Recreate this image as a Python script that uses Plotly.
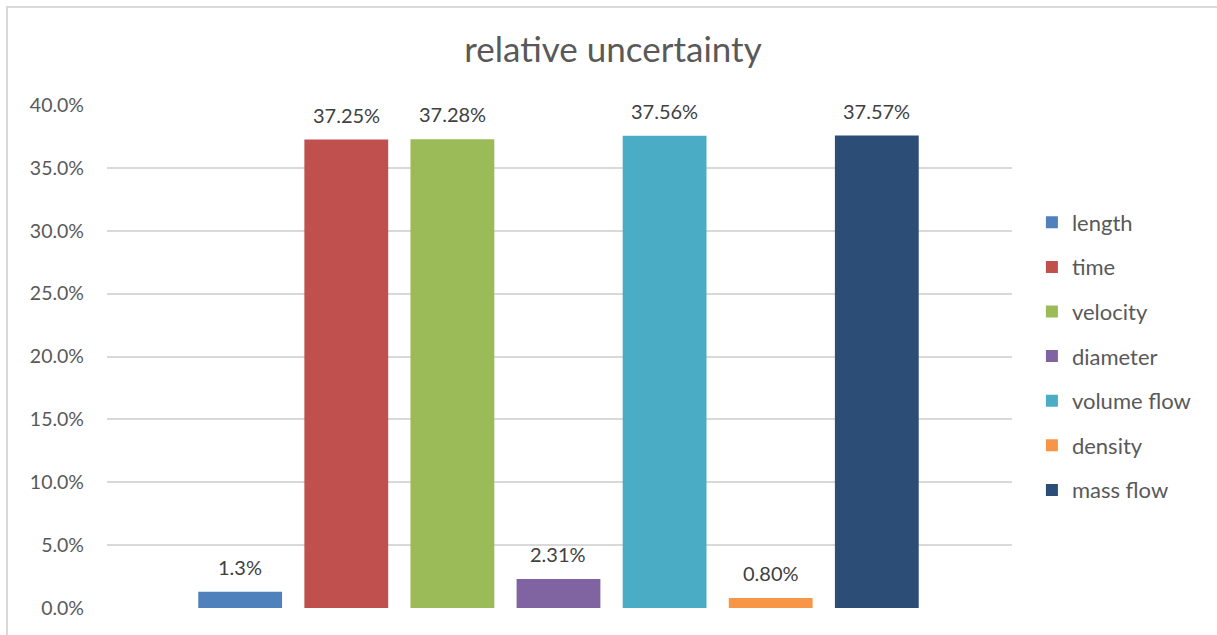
import plotly.graph_objects as go

# Relative uncertainty of each measured / derived quantity
quantities = ["length", "time", "velocity", "diameter", "volume flow", "density", "mass flow"]
uncertainty = [0.013, 0.3725, 0.3728, 0.0231, 0.3756, 0.0080, 0.3757]
label_decimals = [1, 2, 2, 2, 2, 2, 2]
colors = ["#4F81BD", "#C0504D", "#9BBB59", "#8064A2", "#4BACC6", "#F79646", "#2C4D75"]
y_ticks = [0.0, 0.05, 0.10, 0.15, 0.20, 0.25, 0.30, 0.35, 0.40]

FONT = "Lato"
TEXT = "#595959"

fig = go.Figure()
annotations = []
for i, (name, val, dec, col) in enumerate(zip(quantities, uncertainty, label_decimals, colors)):
    fig.add_trace(go.Bar(
        x=[i], y=[val], name=name, width=0.79,
        marker=dict(color=col, line=dict(width=0)),
        legendgroup=name, hoverinfo="skip",
    ))
    annotations.append(dict(
        x=i, y=val, xref="x", yref="y",
        text=f"{val * 100:.{dec}f}%", showarrow=False,
        yanchor="bottom", yshift=11,
        font=dict(family=FONT, size=20, color="#404040"),
    ))

fig.update_layout(
    width=1217, height=635,
    margin=dict(l=107, r=205, t=105, b=27),
    paper_bgcolor="white", plot_bgcolor="white",
    barmode="overlay",
    title=dict(text="relative uncertainty", x=613 / 1217, xref="container", y=1 - 50 / 635,
               yanchor="middle", xanchor="center",
               font=dict(family=FONT, size=35, color=TEXT)),
    xaxis=dict(range=[-1.255, 7.274], showticklabels=False, showgrid=False,
               zeroline=False, showline=False, fixedrange=True),
    yaxis=dict(range=[0, 0.40], tickvals=y_ticks, tickformat=".1%",
               showgrid=True, gridcolor="#D9D9D9", gridwidth=1.5,
               zeroline=False, showline=False, ticks="",
               ticklabelstandoff=22,
               tickfont=dict(family=FONT, size=19.5, color=TEXT)),
    legend=dict(x=1.022, xanchor="left", y=0.5, yanchor="middle",
                traceorder="grouped", tracegroupgap=13,
                font=dict(family=FONT, size=22, color=TEXT),
                itemclick=False, itemdoubleclick=False),
    annotations=annotations,
    shapes=[dict(type="rect", xref="paper", yref="paper",
                 x0=(7 - 107) / 905, x1=1.3, y0=-0.2, y1=(608 - 7) / 503,
                 line=dict(color="#D9D9D9", width=2), fillcolor="rgba(0,0,0,0)",
                 layer="below")],
    showlegend=True,
)

fig.write_html("out.html")
